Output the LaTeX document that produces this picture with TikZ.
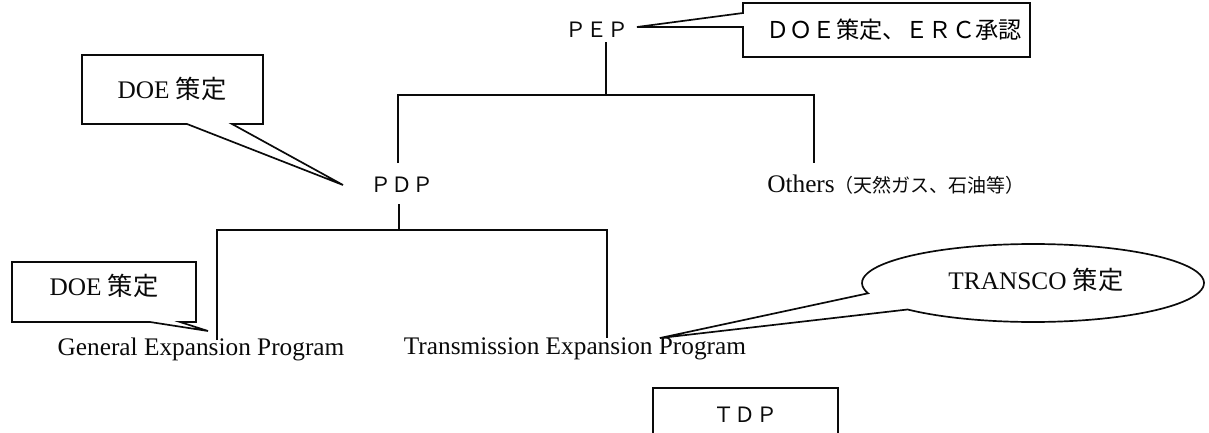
\documentclass[tikz,border=0pt]{standalone}
\usepackage{fontspec}
\setmainfont{Liberation Serif}
\newfontfamily\jpfont{Noto Sans CJK JP}
\usepackage{xcolor}
\definecolor{inkblack}{RGB}{10, 10, 10}

\begin{document}
\begin{tikzpicture}[x=0.025cm, y=-0.025cm,
    tree/.style={line width=1.4pt, inkblack},
    balloon/.style={line width=1.2pt, inkblack, line join=miter},
    label/.style={font=\fontsize{18}{21}\selectfont, inner sep=0pt, inkblack},
    widelabel/.style={font=\fontsize{15}{18}\selectfont\jpfont, inner sep=0pt, inkblack}]
  \useasboundingbox (0,0) rectangle (1209,433);
  \clip (0,0) rectangle (1209,433);

  % --- plan tree ---
  \node[widelabel] (pep) at (597,30) {ＰＥＰ};
  \node[widelabel] (pdp) at (402,185) {ＰＤＰ};
  \node[label, anchor=west] (others) at (767,185)
    {Others{\jpfont\fontsize{13.5}{16}\selectfont （天然ガス、石油等）}};
  \node[label] (gep) at (201,349) {General Expansion Program};
  \node[label] (tep) at (575,349) {Transmission Expansion Program};
  \node[widelabel, draw, line width=1.2pt, minimum width=4.625cm,
    minimum height=1.35cm] (tdp) at (745.5,415) {ＴＤＰ};

  % Joints of the tree
  \coordinate (pepjoin) at (606,95);
  \coordinate (pdpdrop) at (398,163);
  \coordinate (othdrop) at (814,163);
  \coordinate (pdpjoin) at (399,230);
  \coordinate (gepdrop) at (217,340);
  \coordinate (tepdrop) at (607,338);
  \draw[tree] ([yshift=-3pt]pep.south -| pepjoin) -- (pepjoin);
  \draw[tree] (pdpdrop) |- (pepjoin) -| (othdrop);
  \draw[tree] ([yshift=-8pt]pdp.south -| pdpjoin) -- (pdpjoin);
  \draw[tree] (gepdrop) |- (pdpjoin) -| (tepdrop);

  % --- balloons ---
  % PEP
  \draw[balloon] (743,13) -- (743,3) -- (1030,3) -- (1030,57) -- (743,57)
    -- (743,27) -- (637,27) -- cycle;
  \node[font=\fontsize{16.5}{19}\selectfont\jpfont, inner sep=0pt] (pepnote)
    at (894,30) {ＤＯＥ策定、ＥＲＣ承認};
  % PDP
  \draw[balloon] (187,124) -- (82,124) -- (82,55) -- (263,55) -- (263,124)
    -- (232,124) -- (343,185) -- cycle;
  \node[label] (pdpnote) at (172,89) {DOE {\jpfont 策定}};
  % General Expansion Program
  \draw[balloon] (150,322) -- (12,322) -- (12,262) -- (196,262) -- (196,322)
    -- (180,322) -- (208,331) -- cycle;
  \node[label] (gepnote) at (104,286) {DOE {\jpfont 策定}};
  % Transmission Expansion Program
  \draw[balloon] (660,338) -- plot[domain=164.7:497.2, samples=90, smooth]
    ({1033+171*cos(\x)}, {283+39*sin(\x)}) -- cycle;
  \node[label] (tepnote) at (1036,280) {TRANSCO {\jpfont 策定}};
\end{tikzpicture}
\end{document}
